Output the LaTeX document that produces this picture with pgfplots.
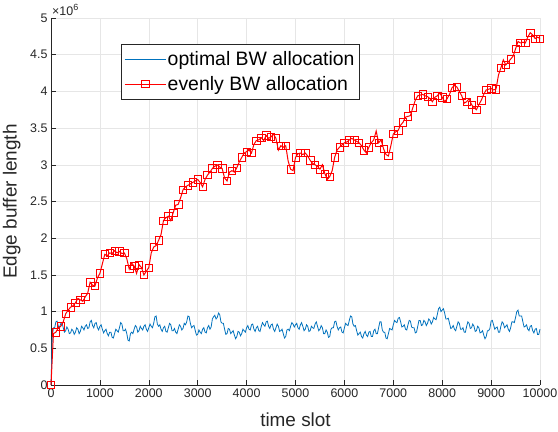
\documentclass[border=0pt]{standalone}
\usepackage{pgfplots}
\usepackage{pgfplotstable}
\pgfplotsset{compat=1.18}
\usepackage{fontspec}
\setmainfont{Liberation Sans}
\definecolor{axgray}{RGB}{38,38,38}
\definecolor{mblue}{RGB}{0,114,189}
\definecolor{gridgray}{RGB}{230,230,230}
\pgfplotstableread{
t v
0 0.00
25 0.65
50 0.78
75 0.78
100 0.86
125 0.87
150 0.80
175 0.78
200 0.84
225 0.85
250 0.78
275 0.72
300 0.74
325 0.79
350 0.76
375 0.70
400 0.71
425 0.76
450 0.74
475 0.69
500 0.72
525 0.78
550 0.76
575 0.70
600 0.73
625 0.80
650 0.78
675 0.75
700 0.80
725 0.82
750 0.77
775 0.78
800 0.86
825 0.88
850 0.81
875 0.78
900 0.84
925 0.85
950 0.78
975 0.75
1000 0.80
1025 0.82
1050 0.76
1075 0.71
1100 0.74
1125 0.76
1150 0.70
1175 0.67
1200 0.72
1225 0.72
1250 0.65
1275 0.64
1300 0.70
1325 0.76
1350 0.74
1375 0.72
1400 0.78
1425 0.85
1450 0.83
1475 0.74
1500 0.74
1525 0.76
1550 0.70
1575 0.61
1600 0.60
1625 0.70
1650 0.72
1675 0.70
1700 0.76
1725 0.81
1750 0.79
1775 0.72
1800 0.74
1825 0.80
1850 0.77
1875 0.75
1900 0.80
1925 0.82
1950 0.76
1975 0.73
2000 0.78
2025 0.83
2050 0.80
2075 0.78
2100 0.84
2125 0.93
2150 0.94
2175 0.83
2200 0.80
2225 0.82
2250 0.76
2275 0.73
2300 0.78
2325 0.80
2350 0.73
2375 0.72
2400 0.78
2425 0.84
2450 0.82
2475 0.74
2500 0.74
2525 0.77
2550 0.72
2575 0.70
2600 0.76
2625 0.82
2650 0.80
2675 0.75
2700 0.77
2725 0.84
2750 0.82
2775 0.86
2800 0.94
2825 0.93
2850 0.84
2875 0.78
2900 0.80
2925 0.81
2950 0.74
2975 0.68
3000 0.69
3025 0.75
3050 0.72
3075 0.70
3100 0.76
3125 0.78
3150 0.72
3175 0.71
3200 0.78
3225 0.81
3250 0.76
3275 0.79
3300 0.90
3325 0.93
3350 0.95
3375 0.90
3400 0.92
3425 0.98
3450 0.96
3475 0.86
3500 0.84
3525 0.84
3550 0.76
3575 0.69
3600 0.70
3625 0.77
3650 0.76
3675 0.70
3700 0.72
3725 0.74
3750 0.68
3775 0.63
3800 0.66
3825 0.73
3850 0.72
3875 0.67
3900 0.70
3925 0.76
3950 0.74
3975 0.72
4000 0.78
4025 0.81
4050 0.76
4075 0.75
4100 0.82
4125 0.83
4150 0.76
4175 0.73
4200 0.78
4225 0.80
4250 0.74
4275 0.73
4300 0.80
4325 0.85
4350 0.82
4375 0.80
4400 0.86
4425 0.87
4450 0.80
4475 0.77
4500 0.82
4525 0.83
4550 0.76
4575 0.73
4600 0.78
4625 0.83
4650 0.80
4675 0.73
4700 0.74
4725 0.76
4750 0.70
4775 0.64
4800 0.66
4825 0.75
4850 0.76
4875 0.74
4900 0.80
4925 0.85
4950 0.83
4975 0.79
5000 0.82
5025 0.84
5050 0.78
5075 0.76
5100 0.82
5125 0.85
5150 0.80
5175 0.74
5200 0.76
5225 0.82
5250 0.80
5275 0.73
5300 0.74
5325 0.80
5350 0.78
5375 0.77
5400 0.83
5425 0.86
5450 0.80
5475 0.74
5500 0.76
5525 0.81
5550 0.78
5575 0.70
5600 0.70
5625 0.75
5650 0.72
5675 0.65
5700 0.66
5725 0.76
5750 0.78
5775 0.78
5800 0.86
5825 0.87
5850 0.80
5875 0.75
5900 0.78
5925 0.79
5950 0.72
5975 0.71
6000 0.78
6025 0.84
6050 0.82
6075 0.81
6100 0.88
6125 0.94
6150 0.93
6175 0.83
6200 0.80
6225 0.81
6250 0.74
6275 0.68
6300 0.70
6325 0.72
6350 0.66
6375 0.64
6400 0.70
6425 0.73
6450 0.68
6475 0.66
6500 0.72
6525 0.73
6550 0.66
6575 0.66
6600 0.74
6625 0.76
6650 0.70
6675 0.70
6700 0.78
6725 0.86
6750 0.86
6775 0.75
6800 0.72
6825 0.72
6850 0.64
6875 0.63
6900 0.70
6925 0.77
6950 0.76
6975 0.75
7000 0.82
7025 0.88
7050 0.86
7075 0.85
7100 0.91
7125 0.92
7150 0.86
7175 0.79
7200 0.80
7225 0.82
7250 0.76
7275 0.75
7300 0.82
7325 0.88
7350 0.87
7375 0.79
7400 0.78
7425 0.78
7450 0.71
7475 0.72
7500 0.80
7525 0.88
7550 0.88
7575 0.81
7600 0.82
7625 0.88
7650 0.86
7675 0.81
7700 0.84
7725 0.90
7750 0.88
7775 0.83
7800 0.86
7825 0.92
7850 0.90
7875 0.89
7900 0.96
7925 1.04
7950 1.06
7975 1.00
8000 1.02
8025 1.04
8050 0.98
8075 0.90
8100 0.90
8125 0.91
8150 0.84
8175 0.77
8200 0.78
8225 0.81
8250 0.76
8275 0.74
8300 0.80
8325 0.86
8350 0.84
8375 0.76
8400 0.76
8425 0.78
8450 0.72
8475 0.72
8500 0.80
8525 0.86
8550 0.84
8575 0.77
8600 0.78
8625 0.83
8650 0.80
8675 0.73
8700 0.74
8725 0.80
8750 0.78
8775 0.71
8800 0.72
8825 0.74
8850 0.68
8875 0.63
8900 0.66
8925 0.74
8950 0.74
8975 0.77
9000 0.87
9025 0.88
9050 0.82
9075 0.76
9100 0.78
9125 0.79
9150 0.72
9175 0.72
9200 0.80
9225 0.86
9250 0.84
9275 0.78
9300 0.80
9325 0.82
9350 0.76
9375 0.73
9400 0.78
9425 0.86
9450 0.86
9475 0.85
9500 0.92
9525 1.00
9550 1.02
9575 0.94
9600 0.94
9625 0.94
9650 0.86
9675 0.79
9700 0.80
9725 0.82
9750 0.76
9775 0.74
9800 0.80
9825 0.81
9850 0.74
9875 0.71
9900 0.76
9925 0.77
9950 0.69
9975 0.69
10000 0.76
}\blue
\pgfplotstableread{
t v
0 0.00
50 0.70
100 0.72
150 0.78
200 0.80
250 0.86
300 0.97
350 1.02
400 1.06
450 1.08
500 1.12
550 1.18
600 1.16
650 1.14
700 1.20
750 1.25
800 1.40
850 1.36
900 1.35
950 1.46
1000 1.52
1050 1.65
1100 1.78
1150 1.76
1200 1.80
1250 1.79
1300 1.83
1350 1.80
1400 1.82
1450 1.79
1500 1.80
1550 1.72
1600 1.58
1650 1.66
1700 1.62
1750 1.52
1800 1.64
1850 1.60
1900 1.50
1950 1.55
2000 1.60
2050 1.80
2100 1.88
2150 1.90
2200 1.97
2250 2.05
2300 2.24
2350 2.28
2400 2.30
2450 2.24
2500 2.35
2550 2.45
2600 2.46
2650 2.55
2700 2.66
2750 2.70
2800 2.72
2850 2.74
2900 2.76
2950 2.78
3000 2.80
3050 2.76
3100 2.70
3150 2.80
3200 2.86
3250 2.90
3300 2.95
3350 2.98
3400 3.00
3450 2.97
3500 2.95
3550 2.82
3600 2.78
3650 2.90
3700 2.92
3750 2.90
3800 2.96
3850 3.04
3900 3.10
3950 3.16
4000 3.18
4050 3.20
4100 3.16
4150 3.28
4200 3.33
4250 3.34
4300 3.37
4350 3.33
4400 3.40
4450 3.36
4500 3.38
4550 3.42
4600 3.36
4650 3.20
4700 3.26
4750 3.24
4800 3.26
4850 3.05
4900 2.94
4950 2.92
5000 3.10
5050 3.15
5100 3.16
5150 3.14
5200 3.16
5250 3.12
5300 3.06
5350 3.02
5400 3.00
5450 2.98
5500 2.94
5550 3.00
5600 2.88
5650 2.80
5700 2.84
5750 2.92
5800 3.10
5850 3.20
5900 3.24
5950 3.27
6000 3.30
6050 3.31
6100 3.34
6150 3.36
6200 3.34
6250 3.32
6300 3.30
6350 3.26
6400 3.20
6450 3.16
6500 3.24
6550 3.30
6600 3.34
6650 3.46
6700 3.30
6750 3.34
6800 3.22
6850 3.14
6900 3.12
6950 3.26
7000 3.42
7050 3.45
7100 3.47
7150 3.54
7200 3.58
7250 3.65
7300 3.66
7350 3.67
7400 3.78
7450 3.88
7500 3.94
7550 3.95
7600 3.96
7650 3.94
7700 3.93
7750 3.90
7800 3.86
7850 3.92
7900 3.94
7950 3.98
8000 3.92
8050 3.86
8100 3.90
8150 3.96
8200 4.05
8250 4.08
8300 4.06
8350 4.00
8400 3.94
8450 3.84
8500 3.86
8550 3.90
8600 3.82
8650 3.78
8700 3.75
8750 3.82
8800 3.88
8850 3.96
8900 4.02
8950 4.03
9000 4.04
9050 4.02
9100 4.03
9150 4.22
9200 4.32
9250 4.43
9300 4.36
9350 4.40
9400 4.44
9450 4.48
9500 4.58
9550 4.68
9600 4.66
9650 4.67
9700 4.66
9750 4.74
9800 4.80
9850 4.77
9900 4.72
9950 4.74
10000 4.72
}\red
\begin{document}
\begin{tikzpicture}
\begin{axis}[
  scale only axis, width=489bp, height=367bp,
  xmin=0, xmax=10000, ymin=0, ymax=5,
  clip=false,
  axis x line=bottom, axis y line=left,
  axis line style={axgray, -, line width=0.6bp},
  xtick={0,1000,...,10000}, ytick={0,0.5,...,5},
  grid=major, major grid style={gridgray, line width=0.6bp},
  tick align=inside, major tick length=5bp,
  tick style={axgray, line width=0.6bp},
  ticklabel style={font=\fontsize{12.5}{14}\selectfont, text=axgray},
  /pgf/number format/assume math mode=true,
  scaled ticks=false,
  x tick label style={/pgf/number format/1000 sep={}},
  y tick label style={/pgf/number format/fixed},
  xlabel={time slot}, ylabel={Edge buffer length},
  label style={font=\fontsize{19}{22}\selectfont, text=axgray},
  x label style={at={(axis description cs:0.5,-0.1144)}, anchor=base},
  y label style={at={(axis description cs:-0.0701,0.5)}, anchor=base},
  legend style={at={(axis description cs:0.143,0.928)}, anchor=north west,
    draw=axgray, fill=white, line width=0.6bp,
    font=\fontsize{19.5}{22}\selectfont, inner xsep=3bp, inner ysep=5.5bp,
    row sep=6bp, nodes={inner sep=1.5bp, text=black}},
  legend cell align=left,
  legend image code/.code={\draw[#1,mark repeat=2,mark phase=2] plot coordinates {(0bp,0bp) (20.5bp,0bp) (41bp,0bp)};},
]
\addplot[mblue, line width=0.8bp] table[x=t,y=v]{\blue};
\addlegendentry{optimal BW allocation}
\addplot[red, line width=1bp, mark=square, mark size=3.7bp, mark repeat=2,
  mark options={solid, line width=0.6bp}] table[x=t,y=v]{\red};
\addlegendentry{evenly BW allocation}
\coordinate (O) at (rel axis cs:0,0);
\node[anchor=base west, inner sep=0pt, font=\fontsize{12.5}{14}\selectfont, text=axgray]
  at (rel axis cs:0,1) [xshift=1bp, yshift=3bp] {×10\raisebox{0.75ex}{\fontsize{9}{10}\selectfont 6}};
\end{axis}
\pgfresetboundingbox
\path[use as bounding box] (O) ++(-51bp,-47bp) rectangle ++(558bp,432bp);
\end{tikzpicture}
\end{document}
